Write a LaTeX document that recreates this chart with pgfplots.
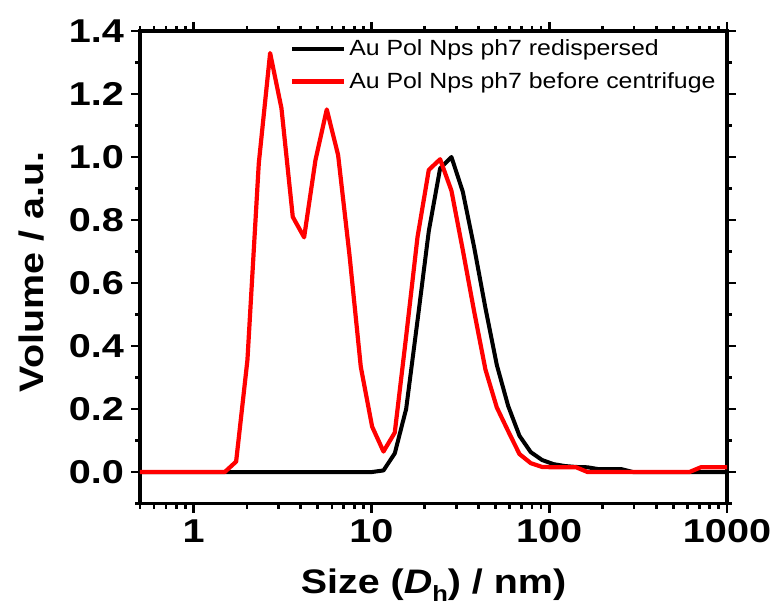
\documentclass[border=0pt]{standalone}
\usepackage{fontspec}
\setmainfont{Liberation Sans}
\newfontfamily\tickfont{Liberation Sans}[FakeStretch=1.2]
\newfontfamily\labfont{Liberation Sans}[FakeStretch=1.16]
\newfontfamily\legfont{Liberation Sans}[FakeStretch=1.13]
\usepackage{pgfplots}
\pgfplotsset{compat=1.18}

\pgfplotstableread{
x y
0.4632 0
0.5365 0
0.6213 0
0.7195 0
0.8332 0
0.9649 0
1.117 0
1.294 0
1.499 0
1.736 0
2.010 0
2.328 0
2.696 0
3.122 0
3.615 0
4.187 0
4.849 0
5.615 0
6.503 0
7.531 0
8.721 0
10.10 0
11.70 0.005
13.54 0.059
15.69 0.2
18.17 0.48
21.04 0.765
24.36 0.964
28.21 1.0
32.67 0.89
37.84 0.714
43.82 0.52
50.75 0.34
58.77 0.21
68.06 0.115
78.82 0.063
91.28 0.038
105.7 0.025
122.4 0.019
141.8 0.016
164.2 0.015
190.1 0.009
220.2 0.009
255.0 0.009
295.3 0
342.0 0
396.1 0
458.7 0
531.2 0
615.1 0
712.4 0
825.0 0
955.4 0
1106 0
}\redisp

\pgfplotstableread{
x y
0.4632 0
0.5365 0
0.6213 0
0.7195 0
0.8332 0
0.9649 0
1.117 0
1.294 0
1.499 0
1.736 0.033
2.010 0.356
2.328 0.98
2.696 1.33
3.122 1.155
3.615 0.81
4.187 0.745
4.849 0.99
5.615 1.151
6.503 1.006
7.531 0.69
8.721 0.334
10.10 0.144
11.70 0.065
13.54 0.125
15.69 0.43
18.17 0.745
21.04 0.959
24.36 0.993
28.21 0.893
32.67 0.705
37.84 0.51
43.82 0.325
50.75 0.205
58.77 0.13
68.06 0.057
78.82 0.028
91.28 0.016
105.7 0.015
122.4 0.015
141.8 0.015
164.2 0
190.1 0
220.2 0
255.0 0
295.3 0
342.0 0
396.1 0
458.7 0
531.2 0
615.1 0
712.4 0.015
825.0 0.015
955.4 0.015
1106 0.015
}\before

\begin{document}
\begin{tikzpicture}
\begin{axis}[
  at={(0,0)}, anchor=south west,
  scale only axis,
  width=293.5pt, height=236.25pt,
  xmode=log,
  xmin=0.5, xmax=1000,
  ymin=-0.1, ymax=1.4,
  xtick={1,10,100,1000},
  xticklabels={1,10,100,1000},
  minor xtick={0.5,0.6,0.7,0.8,0.9,2,3,4,5,6,7,8,9,20,30,40,50,60,70,80,90,200,300,400,500,600,700,800,900},
  ytick={0,0.2,0.4,0.6,0.8,1.0,1.2,1.4},
  yticklabels={0.0,0.2,0.4,0.6,0.8,1.0,1.2,1.4},
  minor ytick={-0.1,0.1,0.3,0.5,0.7,0.9,1.1,1.3},
  tick align=outside,
  major tick length=4.5pt,
  minor tick length=2.5pt,
  every tick/.style={black, line width=1.4pt},
  axis line style={line width=1.7pt},
  tick label style={font=\tickfont\bfseries\fontsize{16.5}{18}\selectfont},
  label style={font=\labfont\bfseries\fontsize{17}{19}\selectfont},
  xlabel={Size (\textit{D}\raisebox{-0.45ex}{\fontsize{11}{12}\selectfont h}) / nm)},
  ylabel={Volume / a.u.},
  xlabel style={at={(axis description cs:0.5,-0.19)}, anchor=base},
  ylabel style={at={(axis description cs:-0.165,0.49)}, anchor=base},
  legend style={draw=none, fill=none, at={(axis description cs:0.255,0.99)}, anchor=north west,
    font=\legfont\fontsize{11}{13}\selectfont, inner sep=0pt, row sep=4pt,
    nodes={inner sep=1.5pt}},
  legend cell align=left,
  legend image code/.code={\draw[#1] (0pt,0pt) -- (26pt,0pt);},
]
\addplot[black, line width=2pt, line join=round] table[x=x,y=y]{\redisp};
\addlegendentry{Au Pol Nps ph7 redispersed}
\addplot[red, line width=2.1pt, line join=round] table[x=x,y=y]{\before};
\addlegendentry{Au Pol Nps ph7 before centrifuge}
\end{axis}
\pgfresetboundingbox
\path (-70pt,-51.25pt) rectangle (317pt,251.75pt);
\end{tikzpicture}
\end{document}
